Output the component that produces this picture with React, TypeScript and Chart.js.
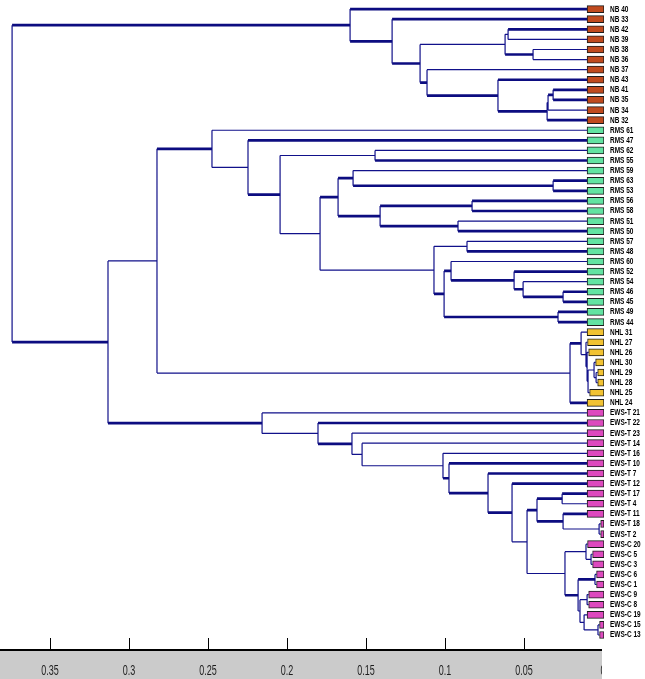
import React, { useEffect, useRef } from "react";
import { Chart, registerables } from "chart.js";
Chart.register(...registerables);

// linkage rows: [cluster id, upper child, lower child, merge distance]
type Link = [string, string, string, number];

const nbLinks: Link[] = [
  ["nb1", "NB 41", "NB 35", 0.0316],
  ["nb2", "nb1", "NB 34", 0.0348],
  ["nb3", "nb2", "NB 32", 0.0354],
  ["nb4", "NB 43", "nb3", 0.0665],
  ["nb5", "NB 37", "nb4", 0.1114],
  ["nb6", "NB 42", "NB 39", 0.0601],
  ["nb7", "NB 38", "NB 36", 0.0443],
  ["nb8", "nb6", "nb7", 0.062],
  ["nb9", "nb8", "nb5", 0.1158],
  ["nb10", "NB 33", "nb9", 0.1335],
  ["nb11", "NB 40", "nb10", 0.1601],
];

const rmsLinks: Link[] = [
  ["r1", "RMS 63", "RMS 53", 0.0316],
  ["r2", "RMS 59", "r1", 0.1582],
  ["r3", "RMS 56", "RMS 58", 0.0829],
  ["r4", "RMS 51", "RMS 50", 0.0918],
  ["r5", "r3", "r4", 0.1411],
  ["r6", "r2", "r5", 0.1677],
  ["r7", "RMS 57", "RMS 48", 0.0861],
  ["r8", "RMS 46", "RMS 45", 0.0253],
  ["r9", "RMS 54", "r8", 0.0506],
  ["r10", "RMS 52", "r9", 0.0563],
  ["r11", "RMS 60", "r10", 0.0962],
  ["r12", "RMS 49", "RMS 44", 0.0285],
  ["r13", "r11", "r12", 0.1006],
  ["r14", "r7", "r13", 0.107],
  ["r15", "r6", "r14", 0.1791],
  ["r16", "RMS 62", "RMS 55", 0.1443],
  ["r17", "r16", "r15", 0.2044],
  ["r18", "RMS 47", "r17", 0.2247],
  ["r19", "RMS 61", "r18", 0.2475],
];

const nhlLinks: Link[] = [
  ["h1", "NHL 29", "NHL 28", 0.0044],
  ["h2", "NHL 30", "h1", 0.0057],
  ["h3", "h2", "NHL 25", 0.0095],
  ["h4", "NHL 26", "h3", 0.0101],
  ["h5", "NHL 27", "h4", 0.0108],
  ["h6", "NHL 31", "h5", 0.0139],
  ["h7", "h6", "NHL 24", 0.0209],
];

const ewsLinks: Link[] = [
  ["e1", "EWS-T 18", "EWS-T 2", 0.0025],
  ["e2", "EWS-T 11", "e1", 0.0253],
  ["e3", "EWS-T 17", "EWS-T 4", 0.0259],
  ["e4", "e3", "e2", 0.0418],
  ["e5", "EWS-C 5", "EWS-C 3", 0.0076],
  ["e6", "EWS-C 20", "e5", 0.0108],
  ["e7", "EWS-C 6", "EWS-C 1", 0.0051],
  ["e8", "EWS-C 9", "EWS-C 8", 0.0101],
  ["e9", "EWS-C 15", "EWS-C 13", 0.0032],
  ["e10", "EWS-C 19", "e9", 0.012],
  ["e11", "e8", "e10", 0.0146],
  ["e12", "e7", "e11", 0.0158],
  ["e13", "e6", "e12", 0.0241],
  ["e14", "e4", "e13", 0.0481],
  ["e15", "EWS-T 12", "e14", 0.0576],
  ["e16", "EWS-T 7", "e15", 0.0728],
  ["e17", "EWS-T 10", "e16", 0.0975],
  ["e18", "EWS-T 16", "e17", 0.1013],
  ["e19", "EWS-T 14", "e18", 0.1525],
  ["e20", "EWS-T 23", "e19", 0.1589],
  ["e21", "EWS-T 22", "e20", 0.1804],
  ["e22", "EWS-T 21", "e21", 0.2158],
];

const topLinks: Link[] = [
  ["m1", "r19", "h7", 0.2823],
  ["m2", "m1", "e22", 0.3133],
  ["root", "nb11", "m2", 0.374],
];

// branches drawn with the heavy line
const boldBranches: string[] = [
  "nb11", "NB 40", "nb10", "NB 33", "nb9", "nb5", "nb4", "NB 43", "nb3", "NB 32",
  "nb1", "NB 41", "NB 35", "NB 42", "nb7",
  "m2", "r19", "e22",
  "RMS 47", "r17", "RMS 55", "r6", "r2", "r1", "RMS 63", "RMS 53", "r5", "r3", "r4",
  "RMS 56", "RMS 58", "RMS 50", "RMS 48", "r13", "r11", "r10", "RMS 52", "r9", "r8",
  "RMS 46", "RMS 45", "r12", "RMS 49", "RMS 44",
  "h6", "NHL 24",
  "EWS-T 22", "e20", "e17", "EWS-T 10", "e16", "EWS-T 7", "e15", "EWS-T 12",
  "e4", "e3", "EWS-T 17", "e2", "EWS-T 11", "e12", "e7",
];

const groupPrefixes = ["NB", "RMS", "NHL", "EWS"];
const groupColors = ["#c04a1e", "#62e3a2", "#f1c232", "#dd49be"];

const tickValues = [0.35, 0.3, 0.25, 0.2, 0.15, 0.1, 0.05, 0];
const tickLabels = ["0.35", "0.3", "0.25", "0.2", "0.15", "0.1", "0.05", "0"];

const allLinks: Link[] = [...nbLinks, ...rmsLinks, ...nhlLinks, ...ewsLinks, ...topLinks];
const linkById = new Map<string, Link>(allLinks.map((l) => [l[0], l]));

const leafOrder: string[] = [];
(function walk(id: string) {
  const l = linkById.get(id);
  if (!l) {
    leafOrder.push(id);
    return;
  }
  walk(l[1]);
  walk(l[2]);
})("root");

const yPos = new Map<string, number>();
leafOrder.forEach((l, i) => yPos.set(l, i));
function posOf(id: string): number {
  const known = yPos.get(id);
  if (known !== undefined) return known;
  const l = linkById.get(id)!;
  const y = (posOf(l[1]) + posOf(l[2])) / 2;
  yPos.set(id, y);
  return y;
}

const BOX_D = 0.0101;
const BOX_END = -0.0006;

function buildGeometry() {
  const thin: { x: number; y: number }[] = [];
  const bold: { x: number; y: number }[] = [];
  const gap = () => ({ x: NaN, y: NaN });
  const boxStart = new Map<string, number>();
  for (const [, a, b, h] of allLinks) {
    const ya = posOf(a);
    const yb = posOf(b);
    thin.push({ x: h, y: ya }, { x: h, y: yb }, gap());
    for (const c of [a, b]) {
      const child = linkById.get(c);
      let x0: number;
      if (!child) {
        x0 = Math.min(BOX_D, h - 0.001);
        boxStart.set(c, x0);
      } else {
        x0 = child[3];
      }
      const arr = boldBranches.includes(c) ? bold : thin;
      arr.push({ x: x0, y: posOf(c) }, { x: h, y: posOf(c) }, gap());
    }
  }
  const boxes = leafOrder.map((l, i) => ({ x: [boxStart.get(l)!, BOX_END], y: i }));
  const boxColors = leafOrder.map(
    (l) => groupColors[groupPrefixes.findIndex((p) => l.startsWith(p + " ") || l.startsWith(p + "-"))]
  );
  return { thin, bold, boxes, boxColors };
}

const LINE = "#11118a";
const SANS = "'Liberation Sans', Arial, sans-serif";

export default function App() {
  const ref = useRef<HTMLCanvasElement | null>(null);
  useEffect(() => {
    const canvas = ref.current;
    if (!canvas) return;
    const { thin, bold, boxes, boxColors } = buildGeometry();

    const bandPlugin = {
      id: "band",
      beforeDraw(chart: any) {
        const { ctx, chartArea } = chart;
        ctx.save();
        ctx.fillStyle = "#ffffff";
        ctx.fillRect(0, 0, chart.width, chart.height);
        ctx.fillStyle = "#cbcbcb";
        ctx.fillRect(0, chartArea.bottom, chartArea.right - 2, chart.height - chartArea.bottom);
        ctx.restore();
      },
      afterDraw(chart: any) {
        const { ctx, chartArea } = chart;
        const xs = chart.scales.x;
        const ys = chart.scales.y;
        ctx.save();
        // upward tick marks
        ctx.strokeStyle = "#000";
        ctx.lineWidth = 1;
        for (const v of tickValues) {
          if (v <= 0) continue;
          const px = Math.round(xs.getPixelForValue(v)) + 0.5;
          ctx.beginPath();
          ctx.moveTo(px, chartArea.bottom - 12);
          ctx.lineTo(px, chartArea.bottom);
          ctx.stroke();
        }
        // tick labels (narrow, tall)
        ctx.fillStyle = "#1e1e1e";
        ctx.font = `15px ${SANS}`;
        ctx.textAlign = "center";
        ctx.textBaseline = "middle";
        tickValues.forEach((v, i) => {
          const px = xs.getPixelForValue(v);
          ctx.save();
          ctx.translate(px, chartArea.bottom + 21);
          ctx.scale(0.6, 1);
          ctx.fillText(tickLabels[i], 0, 0);
          ctx.restore();
        });
        // leaf labels
        ctx.fillStyle = "#000";
        ctx.font = `bold 9px ${SANS}`;
        ctx.textAlign = "left";
        ctx.textBaseline = "middle";
        leafOrder.forEach((label, i) => {
          const py = ys.getPixelForValue(i);
          ctx.save();
          ctx.translate(chartArea.right + 6, py);
          ctx.scale(0.72, 1);
          ctx.fillText(label, 0, 0);
          ctx.restore();
        });
        // axis band stops at the zero mark
        ctx.fillStyle = "#ffffff";
        ctx.fillRect(chartArea.right - 2, chartArea.bottom - 2, chart.width, chart.height);
        ctx.restore();
      },
    };

    const chart = new Chart(canvas, {
      type: "line",
      data: {
        datasets: [
          {
            type: "bar",
            indexAxis: "y",
            data: boxes as any,
            backgroundColor: boxColors,
            borderColor: "#1c1c1c",
            borderWidth: 1,
            borderSkipped: false,
            barThickness: 7,
            grouped: false,
            order: 0,
          } as any,
          {
            type: "line",
            data: thin,
            borderColor: LINE,
            borderWidth: 1.2,
            pointRadius: 0,
            tension: 0,
            fill: false,
            spanGaps: false,
            order: 2,
          } as any,
          {
            type: "line",
            data: bold,
            borderColor: "#0c0c80",
            borderWidth: 2.7,
            pointRadius: 0,
            tension: 0,
            fill: false,
            spanGaps: false,
            order: 1,
          } as any,
        ],
      },
      options: {
        responsive: false,
        animation: false,
        devicePixelRatio: 1,
        layout: { padding: 0 },
        plugins: { legend: { display: false }, tooltip: { enabled: false } },
        events: [],
        scales: {
          x: {
            type: "linear",
            position: "bottom",
            reverse: true,
            min: BOX_END,
            max: 0.38165,
            afterBuildTicks: (s: any) => {
              s.ticks = tickValues.map((v) => ({ value: v }));
            },
            afterFit: (s: any) => {
              s.height = 29;
              s.paddingLeft = 0;
              s.paddingRight = 0;
            },
            ticks: { display: false },
            grid: { display: false, drawTicks: false },
            border: { display: true, color: "#000", width: 2 },
          },
          y: {
            type: "linear",
            position: "right",
            reverse: true,
            min: -0.39,
            max: 62.975,
            afterBuildTicks: (s: any) => {
              s.ticks = leafOrder.map((_, i) => ({ value: i }));
            },
            afterFit: (s: any) => {
              s.width = 41;
              s.paddingTop = 0;
              s.paddingBottom = 0;
            },
            ticks: { display: false },
            grid: { display: false, drawTicks: false },
            border: { display: false },
          },
        },
      },
      plugins: [bandPlugin],
    } as any);
    return () => chart.destroy();
  }, []);

  return (
    <div style={{ position: "absolute", left: 0, top: 0, width: 645, height: 679 }}>
      <canvas ref={ref} width={645} height={679} style={{ width: 645, height: 679, display: "block" }} />
    </div>
  );
}
